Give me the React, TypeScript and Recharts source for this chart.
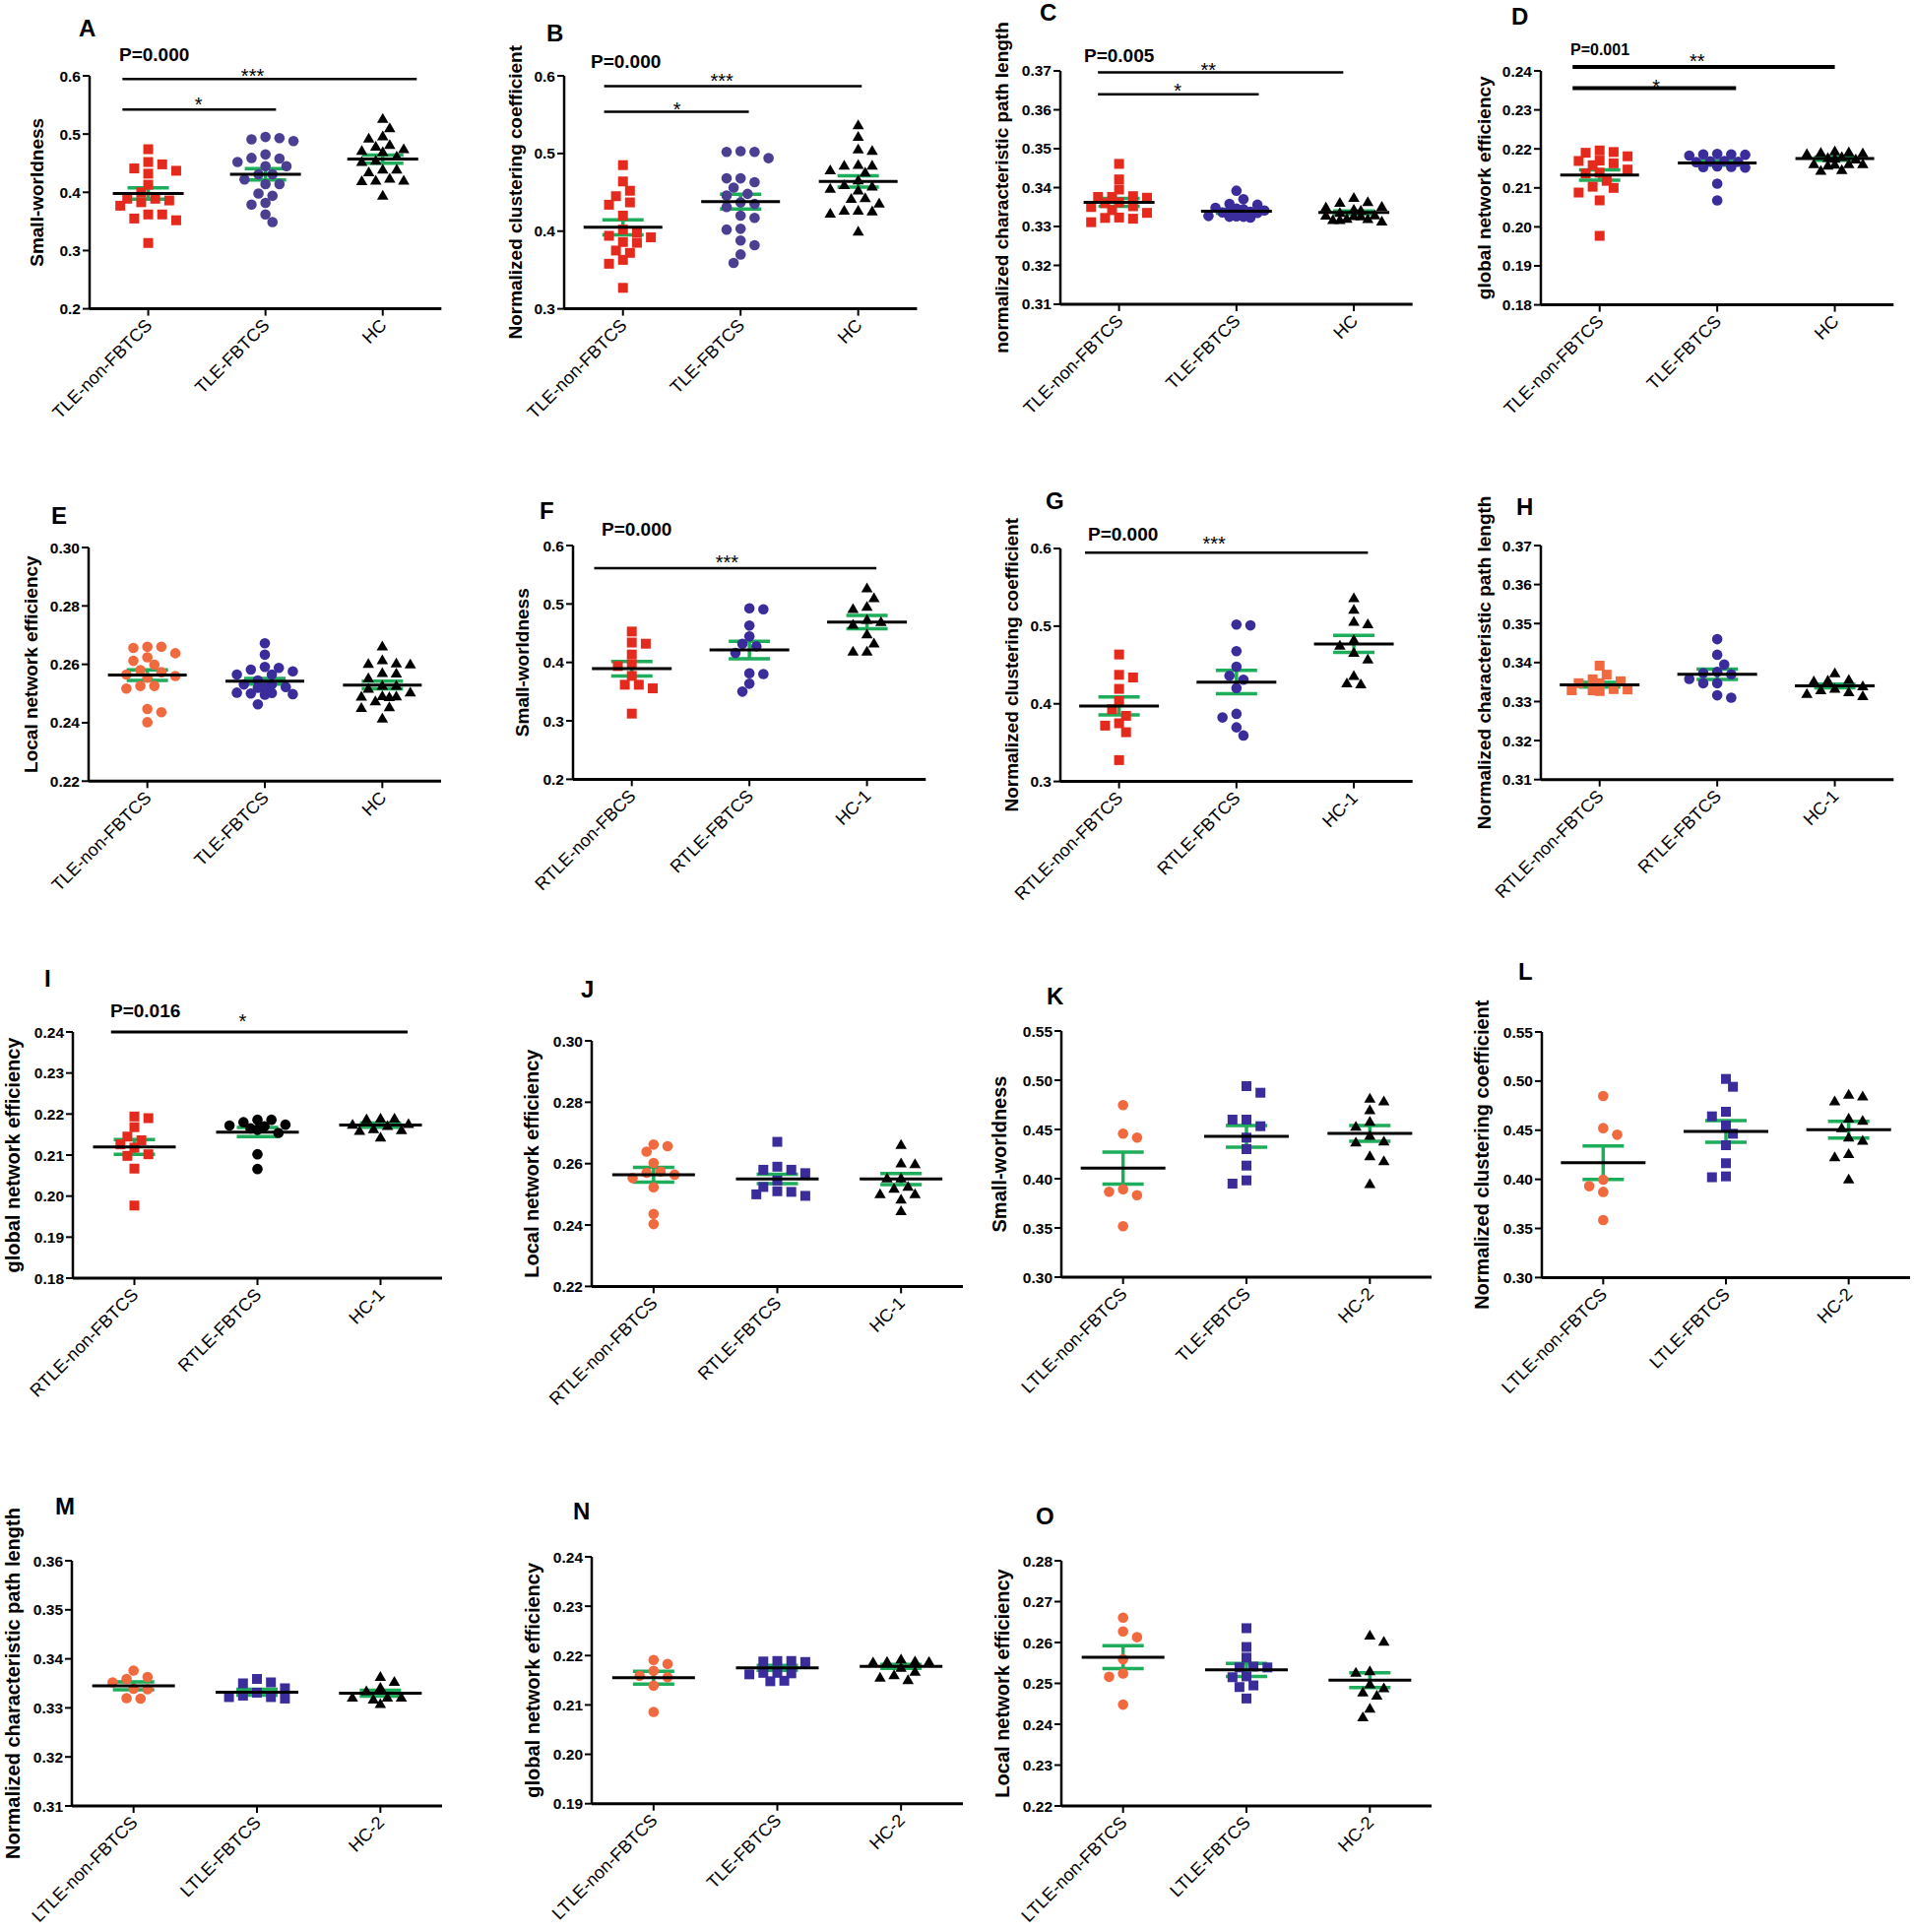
import React from 'react';
import { ScatterChart, Scatter, XAxis, YAxis, ErrorBar, ReferenceLine, ReferenceDot } from 'recharts';

const FONT = 'Arial, "Liberation Sans", Helvetica, sans-serif';
const RED = '#e42a1d';
const PURPLE = '#4b3f92';
const BLUE = '#3a2d9b';
const ORANGE = '#f1693f';
const BLACK = '#000000';
const GREEN = '#1ead5a';

// group names under the x axes
const catsTLE = ['TLE-non-FBTCS', 'TLE-FBTCS', 'HC'];
const catsF = ['RTLE-non-FBCS', 'RTLE-FBTCS', 'HC-1'];
const catsRTLE = ['RTLE-non-FBTCS', 'RTLE-FBTCS', 'HC-1'];
const catsKN = ['LTLE-non-FBTCS', 'TLE-FBTCS', 'HC-2'];
const catsLTLE = ['LTLE-non-FBTCS', 'LTLE-FBTCS', 'HC-2'];

// y ticks
const ticks02to06 = [0.2, 0.3, 0.4, 0.5, 0.6];
const ticks03to06 = [0.3, 0.4, 0.5, 0.6];
const ticks031to037 = [0.31, 0.32, 0.33, 0.34, 0.35, 0.36, 0.37];
const ticks018to024 = [0.18, 0.19, 0.2, 0.21, 0.22, 0.23, 0.24];
const ticks022to030 = [0.22, 0.24, 0.26, 0.28, 0.3];
const ticks030to055 = [0.3, 0.35, 0.4, 0.45, 0.5, 0.55];
const ticks031to036 = [0.31, 0.32, 0.33, 0.34, 0.35, 0.36];
const ticks019to024 = [0.19, 0.2, 0.21, 0.22, 0.23, 0.24];
const ticks022to028 = [0.22, 0.23, 0.24, 0.25, 0.26, 0.27, 0.28];

// A  small-worldness
const aNon = [0.474, 0.452, 0.448, 0.437, 0.441, 0.432, 0.413, 0.4, 0.389, 0.386, 0.377, 0.383, 0.389, 0.362, 0.355, 0.352, 0.362, 0.313];
const aFb = [0.493, 0.488, 0.491, 0.495, 0.458, 0.465, 0.452, 0.459, 0.445, 0.445, 0.431, 0.431, 0.414, 0.414, 0.422, 0.398, 0.394, 0.382, 0.379, 0.362, 0.349];
const aHc = [0.527, 0.511, 0.493, 0.497, 0.479, 0.482, 0.472, 0.475, 0.47, 0.462, 0.455, 0.44, 0.44, 0.453, 0.435, 0.424, 0.421, 0.42, 0.421, 0.395];
const aMean = [0.398, 0.431, 0.457];
const aSem = [0.0097, 0.0096, 0.007];

// B  normalized clustering coefficient
const bNon = [0.485, 0.464, 0.445, 0.452, 0.437, 0.434, 0.42, 0.402, 0.398, 0.392, 0.385, 0.386, 0.394, 0.375, 0.372, 0.363, 0.358, 0.327];
const bFb = [0.502, 0.502, 0.503, 0.494, 0.468, 0.468, 0.463, 0.456, 0.446, 0.448, 0.437, 0.431, 0.435, 0.417, 0.42, 0.402, 0.403, 0.388, 0.382, 0.37, 0.359];
const bHc = [0.537, 0.522, 0.506, 0.504, 0.486, 0.485, 0.485, 0.476, 0.479, 0.466, 0.46, 0.455, 0.453, 0.458, 0.442, 0.443, 0.436, 0.427, 0.427, 0.423, 0.426, 0.4];
const bMean = [0.405, 0.438, 0.464];
const bSem = [0.0097, 0.0095, 0.0073];

// C  normalized characteristic path length
const cNon = [0.3461, 0.3421, 0.3395, 0.3376, 0.3374, 0.3376, 0.3378, 0.3362, 0.336, 0.3352, 0.335, 0.3335, 0.3322, 0.332, 0.3323, 0.3311, 0.3342];
const cFb = [0.3392, 0.337, 0.3358, 0.3356, 0.3348, 0.3346, 0.3341, 0.334, 0.3338, 0.3336, 0.3326, 0.3325, 0.3323, 0.3325, 0.3327, 0.3335, 0.3344];
const cHc = [0.3375, 0.3364, 0.3362, 0.3352, 0.335, 0.3344, 0.3342, 0.3329, 0.3327, 0.3328, 0.333, 0.332, 0.3318, 0.3314, 0.3318, 0.3321, 0.3336];
const cMean = [0.3362, 0.3339, 0.3336];
const cSem = [0.001, 0.0005, 0.0004];

// D  global network efficiency
const dNon = [0.2196, 0.2192, 0.219, 0.2181, 0.217, 0.2169, 0.2163, 0.2158, 0.2147, 0.2139, 0.2137, 0.2118, 0.2103, 0.21, 0.2088, 0.2068, 0.1977];
const dFb = [0.2186, 0.2183, 0.2187, 0.2185, 0.2186, 0.2168, 0.2166, 0.2169, 0.2167, 0.2153, 0.2152, 0.2154, 0.2155, 0.2111, 0.2068];
const dHc = [0.2192, 0.219, 0.2191, 0.2195, 0.2188, 0.2162, 0.2158, 0.2162, 0.2161, 0.2162, 0.2145, 0.2147, 0.2178, 0.2176, 0.218, 0.2174];
const dMean = [0.2133, 0.2164, 0.2175];
const dSem = [0.0013, 0.0006, 0.0004];

// E  local network efficiency
const eNon = [0.266, 0.2656, 0.266, 0.2638, 0.2624, 0.2612, 0.2599, 0.258, 0.2573, 0.2565, 0.2554, 0.256, 0.2526, 0.2526, 0.2517, 0.2447, 0.2436, 0.2402];
const eFb = [0.2672, 0.2633, 0.2588, 0.2591, 0.2582, 0.2565, 0.2565, 0.2576, 0.2531, 0.2531, 0.252, 0.252, 0.2522, 0.2502, 0.2498, 0.2503, 0.2496, 0.25, 0.2463, 0.2545];
const eHc = [0.2663, 0.2616, 0.2603, 0.2601, 0.2605, 0.257, 0.2572, 0.2554, 0.2528, 0.2528, 0.2505, 0.2518, 0.2492, 0.2489, 0.2493, 0.2491, 0.2455, 0.2475, 0.2452, 0.2416];
const eMean = [0.2563, 0.2542, 0.2529];
const eSem = [0.0018, 0.001, 0.0013];

// F  small-worldness, right TLE
const fNon = [0.4528, 0.432, 0.434, 0.4135, 0.3938, 0.3966, 0.377, 0.3618, 0.3556, 0.3618, 0.3124];
const fFb = [0.491, 0.4927, 0.4629, 0.4444, 0.432, 0.4275, 0.4163, 0.3815, 0.38, 0.3635, 0.35];
const fHc = [0.5275, 0.5107, 0.4961, 0.4921, 0.465, 0.47, 0.4489, 0.4331, 0.4191, 0.4191, 0.4735];
const fMean = [0.3893, 0.4213, 0.469];
const fSem = [0.0124, 0.015, 0.0115];

// G  normalized clustering coefficient, right TLE
const gNon = [0.4635, 0.4339, 0.4373, 0.4192, 0.4035, 0.393, 0.3845, 0.3719, 0.3749, 0.3634, 0.3275];
const gFb = [0.502, 0.501, 0.4678, 0.4479, 0.4361, 0.431, 0.4204, 0.3871, 0.3824, 0.3697, 0.3592];
const gHc = [0.5366, 0.5218, 0.5062, 0.5029, 0.4826, 0.4754, 0.4661, 0.4576, 0.4365, 0.4255, 0.4268];
const gMean = [0.3972, 0.428, 0.4771];
const gSem = [0.0116, 0.015, 0.011];

// H  normalized characteristic path length, right TLE
const hNon = [0.3392, 0.3369, 0.3357, 0.3352, 0.3347, 0.3347, 0.3331, 0.3329, 0.3327, 0.3329, 0.3332];
const hFb = [0.346, 0.342, 0.3395, 0.3373, 0.3376, 0.337, 0.3347, 0.3347, 0.331, 0.3316, 0.3358];
const hHc = [0.3374, 0.3357, 0.3355, 0.3353, 0.3334, 0.3325, 0.333, 0.3315, 0.3321, 0.334];
const hMean = [0.3343, 0.337, 0.334];
const hSem = [0.0006, 0.0013, 0.0005];

// I  global network efficiency, right TLE
const iNon = [0.219, 0.2194, 0.2168, 0.2145, 0.2136, 0.2126, 0.2098, 0.2102, 0.2067, 0.1977, 0.2118];
const iFb = [0.2186, 0.218, 0.2174, 0.2186, 0.2172, 0.217, 0.2162, 0.2154, 0.2102, 0.2066, 0.2165];
const iHc = [0.219, 0.2188, 0.219, 0.2172, 0.2164, 0.2162, 0.216, 0.2144, 0.2175, 0.2177];
const iMean = [0.212, 0.2156, 0.2173];
const iSem = [0.0018, 0.0011, 0.0005];

// J  local network efficiency, right TLE
const jNon = [0.2657, 0.2662, 0.2639, 0.2602, 0.2574, 0.2564, 0.257, 0.2553, 0.2523, 0.2436, 0.2403];
const jFb = [0.2671, 0.259, 0.258, 0.258, 0.2569, 0.2524, 0.251, 0.2495, 0.25, 0.2508, 0.2545];
const jHc = [0.2662, 0.2602, 0.26, 0.2553, 0.2553, 0.252, 0.2526, 0.2502, 0.2502, 0.2484, 0.2447];
const jMean = [0.2564, 0.255, 0.255];
const jSem = [0.0024, 0.0015, 0.0018];

// K  small-worldness, left TLE
const kNon = [0.4747, 0.4417, 0.4457, 0.3867, 0.3893, 0.3833, 0.3517];
const kFb = [0.494, 0.4873, 0.46, 0.46, 0.4533, 0.4417, 0.43, 0.4133, 0.395, 0.3983];
const kHc = [0.479, 0.4817, 0.47, 0.4583, 0.4533, 0.444, 0.4383, 0.4373, 0.4233, 0.4183, 0.395];
const kMean = [0.4107, 0.443, 0.446];
const kSem = [0.0163, 0.011, 0.008];

// L  normalized clustering coefficient, left TLE
const lNon = [0.4848, 0.4521, 0.4454, 0.3996, 0.393, 0.3872, 0.3585];
const lFb = [0.5022, 0.4942, 0.4688, 0.4641, 0.4548, 0.4464, 0.4347, 0.4164, 0.4021, 0.403];
const lHc = [0.4866, 0.4798, 0.4848, 0.4622, 0.46, 0.4524, 0.443, 0.4397, 0.4263, 0.423, 0.4003];
const lMean = [0.417, 0.4487, 0.4506];
const lSem = [0.017, 0.011, 0.0085];

// M  normalized characteristic path length, left TLE
const mNon = [0.3376, 0.3359, 0.3363, 0.3352, 0.3339, 0.3338, 0.3319, 0.332];
const mFb = [0.3359, 0.3352, 0.335, 0.3331, 0.3322, 0.3319, 0.3322, 0.3325, 0.334];
const mHc = [0.3354, 0.3364, 0.3342, 0.3322, 0.3318, 0.3322, 0.3322, 0.3309, 0.3335];
const mMean = [0.3345, 0.3332, 0.333];
const mSem = [0.0008, 0.0006, 0.0006];

// N  global network efficiency, left TLE
const nNon = [0.2191, 0.2183, 0.2169, 0.2156, 0.2159, 0.2139, 0.2086];
const nFb = [0.2189, 0.2188, 0.2189, 0.2187, 0.2165, 0.2162, 0.2164, 0.2165, 0.2148, 0.2149];
const nHc = [0.2187, 0.2188, 0.2193, 0.2188, 0.2189, 0.2161, 0.2151, 0.2156, 0.2168, 0.2176];
const nMean = [0.2155, 0.2175, 0.2178];
const nSem = [0.0013, 0.0005, 0.0004];

// O  local network efficiency, left TLE
const oNon = [0.2661, 0.2627, 0.2613, 0.2559, 0.2524, 0.2516, 0.2448];
const oFb = [0.2635, 0.2589, 0.2563, 0.2539, 0.2541, 0.2539, 0.2517, 0.2515, 0.2495, 0.2491, 0.2463];
const oHc = [0.2618, 0.2603, 0.2531, 0.2527, 0.2499, 0.2479, 0.2489, 0.2471, 0.2439, 0.2418];
const oMean = [0.2564, 0.2533, 0.2508];
const oSem = [0.0028, 0.0016, 0.0018];

type Kind = 'square' | 'circle' | 'triangle';
type Sig = { x1: number; x2: number; y: number; text: string; tx: number; gap: number };
type Panel = {
  letter: string;
  letterAt: [number, number];
  pText?: { text: string; x: number; y: number; size: number };
  box: [number, number, number, number]; // axis corner x, top y, width, height (page px)
  yw: number;
  labelSize: number;
  domain: [number, number];
  ticks: number[];
  digits: number;
  yLabel: string;
  cats: string[];
  groups: number[][];
  means: number[];
  sems: number[];
  kinds: Kind[];
  colors: string[];
  sig: Sig[];
  sigW: number;
  meanW: number;
};

const SQ: Kind = 'square';
const CI: Kind = 'circle';
const TR: Kind = 'triangle';

const panels: Panel[] = [
  {
    letter: 'A', letterAt: [80, 37], pText: { text: 'P=0.000', x: 121, y: 62, size: 19 },
    box: [90.7, 76.7, 357.3, 236.6], yw: 108, labelSize: 19, domain: [0.2, 0.6], ticks: ticks02to06, digits: 1,
    yLabel: 'Small-worldness', cats: catsTLE, groups: [aNon, aFb, aHc], means: aMean, sems: aSem,
    kinds: [SQ, CI, TR], colors: [RED, PURPLE, BLACK],
    sig: [
      { x1: 0.78, x2: 3.29, y: 0.5944, text: '***', tx: 1.89, gap: 8 },
      { x1: 0.78, x2: 2.09, y: 0.542, text: '*', tx: 1.43, gap: 10 },
    ], sigW: 2.5, meanW: 72,
  },
  {
    letter: 'B', letterAt: [555, 42], pText: { text: 'P=0.000', x: 600, y: 69, size: 19 },
    box: [573.3, 76.7, 358.4, 236.6], yw: 100, labelSize: 19, domain: [0.3, 0.6], ticks: ticks03to06, digits: 1,
    yLabel: 'Normalized clustering coefficient', cats: catsTLE, groups: [bNon, bFb, bHc], means: bMean, sems: bSem,
    kinds: [SQ, CI, TR], colors: [RED, PURPLE, BLACK],
    sig: [
      { x1: 0.84, x2: 3.03, y: 0.5866, text: '***', tx: 1.84, gap: 10 },
      { x1: 0.84, x2: 2.07, y: 0.5536, text: '*', tx: 1.46, gap: 7 },
    ], sigW: 2.5, meanW: 80,
  },
  {
    letter: 'C', letterAt: [1056, 21], pText: { text: 'P=0.005', x: 1101, y: 63, size: 19 },
    box: [1077.3, 72.3, 357.7, 237], yw: 120, labelSize: 19, domain: [0.31, 0.37], ticks: ticks031to037, digits: 2,
    yLabel: 'normalized characteristic path length', cats: catsTLE, groups: [cNon, cFb, cHc], means: cMean, sems: cSem,
    kinds: [SQ, CI, TR], colors: [RED, BLUE, BLACK],
    sig: [
      { x1: 0.82, x2: 2.91, y: 0.3696, text: '**', tx: 1.76, gap: 7 },
      { x1: 0.82, x2: 2.19, y: 0.364, text: '*', tx: 1.5, gap: 8 },
    ], sigW: 2.5, meanW: 72,
  },
  {
    letter: 'D', letterAt: [1535, 25], pText: { text: 'P=0.001', x: 1595, y: 56, size: 16 },
    box: [1565, 71.7, 358.3, 237.6], yw: 116, labelSize: 19, domain: [0.18, 0.24], ticks: ticks018to024, digits: 2,
    yLabel: 'global network efficiency', cats: catsTLE, groups: [dNon, dFb, dHc], means: dMean, sems: dSem,
    kinds: [SQ, CI, TR], colors: [RED, BLUE, BLACK],
    sig: [
      { x1: 0.77, x2: 3.0, y: 0.241, text: '**', tx: 1.83, gap: 11 },
      { x1: 0.77, x2: 2.16, y: 0.2356, text: '*', tx: 1.48, gap: 6 },
    ], sigW: 4, meanW: 80,
  },
  {
    letter: 'E', letterAt: [52, 532],
    box: [90, 556, 358, 237.3], yw: 118, labelSize: 19, domain: [0.22, 0.3], ticks: ticks022to030, digits: 2,
    yLabel: 'Local network efficiency', cats: catsTLE, groups: [eNon, eFb, eHc], means: eMean, sems: eSem,
    kinds: [CI, CI, TR], colors: [ORANGE, BLUE, BLACK], sig: [], sigW: 2.5, meanW: 80,
  },
  {
    letter: 'F', letterAt: [548, 527], pText: { text: 'P=0.000', x: 611, y: 544, size: 19 },
    box: [581.7, 554.3, 358.3, 237.4], yw: 104, labelSize: 19, domain: [0.2, 0.6], ticks: ticks02to06, digits: 1,
    yLabel: 'Small-worldness', cats: catsF, groups: [fNon, fFb, fHc], means: fMean, sems: fSem,
    kinds: [SQ, CI, TR], colors: [RED, BLUE, BLACK],
    sig: [{ x1: 0.68, x2: 3.08, y: 0.5612, text: '***', tx: 1.81, gap: 10.5 }], sigW: 2.5, meanW: 81,
  },
  {
    letter: 'G', letterAt: [1062, 517], pText: { text: 'P=0.000', x: 1105, y: 549, size: 19 },
    box: [1077.3, 556.7, 357.7, 236.6], yw: 100, labelSize: 19, domain: [0.3, 0.6], ticks: ticks03to06, digits: 1,
    yLabel: 'Normalized clustering coefficient', cats: catsRTLE, groups: [gNon, gFb, gHc], means: gMean, sems: gSem,
    kinds: [SQ, CI, TR], colors: [RED, BLUE, BLACK],
    sig: [{ x1: 0.71, x2: 3.12, y: 0.5945, text: '***', tx: 1.81, gap: 14 }], sigW: 2.5, meanW: 81,
  },
  {
    letter: 'H', letterAt: [1540, 523],
    box: [1565, 554, 358.3, 237.7], yw: 116, labelSize: 19, domain: [0.31, 0.37], ticks: ticks031to037, digits: 2,
    yLabel: 'Normalized characteristic path length', cats: catsRTLE, groups: [hNon, hFb, hHc], means: hMean, sems: hSem,
    kinds: [SQ, CI, TR], colors: [ORANGE, BLUE, BLACK], sig: [], sigW: 2.5, meanW: 81,
  },
  {
    letter: 'I', letterAt: [45, 1002], pText: { text: 'P=0.016', x: 112, y: 1033, size: 19 },
    box: [73.5, 1047.7, 375, 250], yw: 122, labelSize: 20, domain: [0.18, 0.24], ticks: ticks018to024, digits: 2,
    yLabel: 'global network efficiency', cats: catsRTLE, groups: [iNon, iFb, iHc], means: iMean, sems: iSem,
    kinds: [SQ, CI, TR], colors: [RED, BLACK, BLACK],
    sig: [{ x1: 0.81, x2: 3.22, y: 0.24, text: '*', tx: 1.88, gap: 16 }], sigW: 3, meanW: 84,
  },
  {
    letter: 'J', letterAt: [590, 1013],
    box: [601, 1057.3, 377, 249.4], yw: 122, labelSize: 20, domain: [0.22, 0.3], ticks: ticks022to030, digits: 2,
    yLabel: 'Local network efficiency', cats: catsRTLE, groups: [jNon, jFb, jHc], means: jMean, sems: jSem,
    kinds: [CI, SQ, TR], colors: [ORANGE, BLUE, BLACK], sig: [], sigW: 2.5, meanW: 84,
  },
  {
    letter: 'K', letterAt: [1063, 1020],
    box: [1078, 1046.7, 376, 250], yw: 126, labelSize: 20, domain: [0.3, 0.55], ticks: ticks030to055, digits: 2,
    yLabel: 'Small-worldness', cats: catsKN, groups: [kNon, kFb, kHc], means: kMean, sems: kSem,
    kinds: [CI, SQ, TR], colors: [ORANGE, BLUE, BLACK], sig: [], sigW: 2.5, meanW: 86,
  },
  {
    letter: 'L', letterAt: [1542, 995],
    box: [1566, 1048.3, 374, 249.4], yw: 122, labelSize: 20, domain: [0.3, 0.55], ticks: ticks030to055, digits: 2,
    yLabel: 'Normalized clustering coefficient', cats: catsLTLE, groups: [lNon, lFb, lHc], means: lMean, sems: lSem,
    kinds: [CI, SQ, TR], colors: [ORANGE, BLUE, BLACK], sig: [], sigW: 2.5, meanW: 86,
  },
  {
    letter: 'M', letterAt: [56, 1538],
    box: [73, 1585, 376, 249], yw: 120, labelSize: 20, domain: [0.31, 0.36], ticks: ticks031to036, digits: 2,
    yLabel: 'Normalized characteristic path length', cats: catsLTLE, groups: [mNon, mFb, mHc], means: mMean, sems: mSem,
    kinds: [CI, SQ, TR], colors: [ORANGE, BLUE, BLACK], sig: [], sigW: 2.5, meanW: 84,
  },
  {
    letter: 'N', letterAt: [582, 1543],
    box: [601, 1581, 377, 250.7], yw: 120, labelSize: 20, domain: [0.19, 0.24], ticks: ticks019to024, digits: 2,
    yLabel: 'global network efficiency', cats: catsKN, groups: [nNon, nFb, nHc], means: nMean, sems: nSem,
    kinds: [CI, SQ, TR], colors: [ORANGE, BLUE, BLACK], sig: [], sigW: 2.5, meanW: 84,
  },
  {
    letter: 'O', letterAt: [1052, 1548],
    box: [1078, 1585, 376, 249], yw: 120, labelSize: 20, domain: [0.22, 0.28], ticks: ticks022to028, digits: 2,
    yLabel: 'Local network efficiency', cats: catsLTLE, groups: [oNon, oFb, oHc], means: oMean, sems: oSem,
    kinds: [CI, SQ, TR], colors: [ORANGE, BLUE, BLACK], sig: [], sigW: 2.5, meanW: 84,
  },
];

// spread points sideways so that close values do not hide each other (column scatter layout)
function swarm(values: number[], center: number, domain: [number, number], w: number, h: number) {
  const pxPerVal = h / (domain[1] - domain[0]);
  const unitPx = w / 3;
  const HALF = 7.1;
  const MAXK = 4;
  const DIST = 10;
  const order = values.map((_, i) => i).sort((a, b) => values[b] - values[a]);
  const placed: { px: number; py: number }[] = [];
  const out = values.map((v) => ({ x: center, y: v }));
  let side = 1;
  for (const i of order) {
    const py = values[i] * pxPerVal;
    let chosen: number | null = null;
    let best = 0;
    let bestClear = -1;
    for (let r = 0; r <= MAXK && chosen === null; r++) {
      const cands = r === 0 ? [0] : [r * side, -r * side];
      for (const c of cands) {
        const px = c * HALF;
        let clear = Infinity;
        for (const q of placed) clear = Math.min(clear, Math.hypot(q.px - px, q.py - py));
        if (clear >= DIST) {
          chosen = c;
          break;
        }
        if (clear > bestClear + 2) {
          bestClear = clear;
          best = c;
        }
      }
    }
    const k = chosen === null ? best : chosen;
    placed.push({ px: k * HALF, py });
    out[i].x = center + (k * HALF) / unitPx;
    if (k !== 0) side = k > 0 ? -1 : 1;
  }
  return out;
}

const markerShape = (kind: Kind, color: string) => (props: any) => {
  const { cx, cy } = props;
  if (kind === 'square') return <rect x={cx - 5} y={cy - 5} width={10} height={10} fill={color} />;
  if (kind === 'circle') return <circle cx={cx} cy={cy} r={5.3} fill={color} />;
  return <path d={`M${cx},${cy - 5.5}L${cx + 5.8},${cy + 4.5}L${cx - 5.8},${cy + 4.5}Z`} fill={color} />;
};

const meanShape = (w: number) => (props: any) => (
  <line x1={props.cx - w / 2} x2={props.cx + w / 2} y1={props.cy} y2={props.cy} stroke="#000" strokeWidth={3} />
);

const xTick = (cats: string[]) => (props: any) => {
  const { x, y, payload } = props;
  return (
    <text
      transform={`translate(${x + 5},${y + 9}) rotate(-45)`}
      textAnchor="end"
      fontSize={18}
      fontFamily={FONT}
      fill="#000"
    >
      {cats[Math.round(payload.value) - 1]}
    </text>
  );
};

const TOP = 95;
const RIGHT = 8;
const XH = 170;

function PanelChart({ p }: { p: Panel }) {
  const [x0, y0, w, h] = p.box;
  const width = p.yw + w + RIGHT;
  const height = TOP + h + XH;
  const pts = p.groups.map((g, i) => swarm(g, i + 1, p.domain, w, h));
  const summary = p.means.map((m, i) => ({ x: i + 1, y: m, sem: p.sems[i] }));
  return (
    <div style={{ position: 'absolute', left: x0 - p.yw, top: y0 - TOP }}>
      <ScatterChart width={width} height={height} margin={{ top: TOP, right: RIGHT, bottom: 0, left: 0 }}>
        <XAxis
          type="number"
          dataKey="x"
          domain={[0.5, 3.5]}
          ticks={[1, 2, 3]}
          interval={0}
          allowDataOverflow
          height={XH}
          axisLine={{ stroke: '#000', strokeWidth: 3 }}
          tickLine={{ stroke: '#000', strokeWidth: 2 }}
          tickSize={7}
          tick={xTick(p.cats)}
        />
        <YAxis
          type="number"
          dataKey="y"
          domain={p.domain}
          ticks={p.ticks}
          interval={0}
          allowDataOverflow
          width={p.yw}
          axisLine={{ stroke: '#000', strokeWidth: 2.5 }}
          tickLine={{ stroke: '#000', strokeWidth: 2 }}
          tickSize={7}
          tickMargin={2}
          tickFormatter={(v: number) => v.toFixed(p.digits)}
          tick={{ fill: '#000', fontSize: 15.5, fontWeight: 'bold', fontFamily: FONT }}
          label={{
            value: p.yLabel,
            angle: -90,
            position: 'center',
            fill: '#000',
            fontSize: p.labelSize,
            fontWeight: 'bold',
            fontFamily: FONT,
          }}
        />
        {p.sig.map((s, k) => (
          <ReferenceLine
            key={`sl${k}`}
            segment={[{ x: s.x1, y: s.y }, { x: s.x2, y: s.y }]}
            stroke="#000"
            strokeWidth={p.sigW}
            ifOverflow="visible"
          />
        ))}
        {p.sig.map((s, k) => (
          <ReferenceDot
            key={`st${k}`}
            x={s.tx}
            y={s.y}
            r={1}
            ifOverflow="visible"
            shape={(d: any) => (
              <text x={d.cx} y={d.cy - s.gap + 11.5} textAnchor="middle" fontSize={20} fontFamily={FONT} fill="#000">
                {s.text}
              </text>
            )}
          />
        ))}
        {pts.map((d, i) => (
          <Scatter key={`g${i}`} data={d} shape={markerShape(p.kinds[i], p.colors[i])} isAnimationActive={false} />
        ))}
        <Scatter data={summary} shape={meanShape(p.meanW)} isAnimationActive={false}>
          <ErrorBar dataKey="sem" direction="y" width={21} stroke={GREEN} strokeWidth={3.5} />
        </Scatter>
      </ScatterChart>
    </div>
  );
}

export default function App() {
  return (
    <div
      style={{
        position: 'absolute',
        left: 0,
        top: 0,
        width: 1944,
        height: 1962,
        background: '#fff',
        overflow: 'hidden',
        fontFamily: FONT,
      }}
    >
      {panels.map((p) => (
        <PanelChart key={p.letter} p={p} />
      ))}
      <svg width={1944} height={1962} style={{ position: 'absolute', left: 0, top: 0, pointerEvents: 'none' }}>
        {panels.map((p) => (
          <text key={`L${p.letter}`} x={p.letterAt[0]} y={p.letterAt[1]} fontSize={24} fontWeight="bold" fontFamily={FONT} fill="#000">
            {p.letter}
          </text>
        ))}
        {panels
          .filter((p) => p.pText)
          .map((p) => (
            <text key={`P${p.letter}`} x={p.pText!.x} y={p.pText!.y} fontSize={p.pText!.size} fontWeight="bold" fontFamily={FONT} fill="#000">
              {p.pText!.text}
            </text>
          ))}
      </svg>
    </div>
  );
}
